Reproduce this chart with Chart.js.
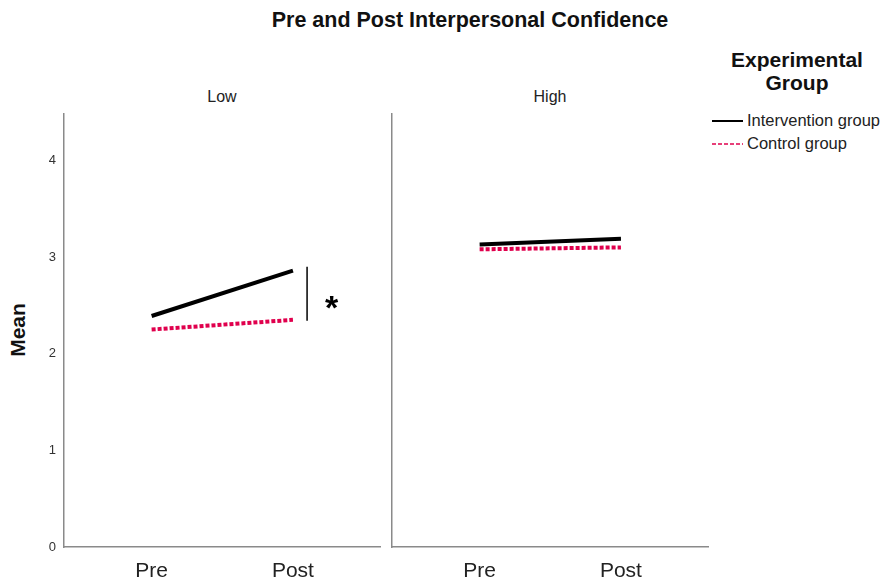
<!DOCTYPE html>
<html>
<head>
<meta charset="utf-8">
<script src="https://cdn.jsdelivr.net/npm/chart.js@4.4.1/dist/chart.umd.min.js"></script>
<style>
  html, body { margin: 0; padding: 0; background: #fff; }
  body { width: 884px; height: 581px; position: relative; overflow: hidden; font-family: "Liberation Sans", Arial, sans-serif; color: #111; }
  .abs { position: absolute; white-space: nowrap; }
  .c { transform: translate(-50%, -50%); }
  #title { left: 470px; top: 20px; font-weight: bold; font-size: 21.5px; }
  .ptitle { top: 97px; font-size: 16px; color: #222; }
  #mean { left: 18px; top: 330px; font-weight: bold; font-size: 21px; transform: translate(-50%, -50%) rotate(-90deg); }
  .legt { font-weight: bold; font-size: 21px; color: #111; }
  .legi { font-size: 16.5px; color: #222; display: flex; align-items: center; }
  .legi svg { margin-right: 4px; }
  #left { left: 0; top: 0; }
  #right { left: 384px; top: 0; }
</style>
</head>
<body>
<div id="title" class="abs c">Pre and Post Interpersonal Confidence</div>
<div id="mean" class="abs">Mean</div>
<div class="abs c ptitle" id="pt0" style="left:222px">Low</div>
<div class="abs c ptitle" id="pt1" style="left:550px">High</div>
<div class="abs c legt" style="left:797px; top:60px">Experimental</div>
<div class="abs c legt" style="left:797px; top:83px">Group</div>
<div class="abs legi" style="left:712px; top:111px">
  <svg width="31" height="4"><line x1="0" y1="2" x2="31" y2="2" stroke="#000" stroke-width="2"/></svg><span id="li0"></span>
</div>
<div class="abs legi" style="left:712px; top:134px">
  <svg width="31" height="4"><line x1="0" y1="2" x2="31" y2="2" stroke="#e0004d" stroke-width="1.5" stroke-dasharray="4,2"/></svg><span id="li1"></span>
</div>
<canvas id="left" class="abs" width="386" height="581"></canvas>
<canvas id="right" class="abs" width="330" height="581"></canvas>
<script>
// ---- data ----
const categories = ['Pre', 'Post'];
const panels = ['Low', 'High'];
const seriesNames = ['Intervention group', 'Control group'];
const interventionLow = [2.39, 2.86];
const controlLow = [2.25, 2.35];
const interventionHigh = [3.13, 3.19];
const controlHigh = [3.08, 3.10];
const yTicks = [0, 1, 2, 3, 4];
const sigLow = [2.90, 2.34];   // significance bracket span (Low, Post)

document.getElementById('li0').textContent = seriesNames[0];
document.getElementById('li1').textContent = seriesNames[1];
document.getElementById('pt0').textContent = panels[0];
document.getElementById('pt1').textContent = panels[1];

const AXIS = '#8a8a8a';
const RED = '#e0004d';
const X_MIN = -0.62, X_MAX = 1.616, Y_MAX = 4.48;

function pts(vals) { return vals.map((v, i) => ({ x: i, y: v })); }

const sigPlugin = {
  id: 'sig',
  afterDatasetsDraw(chart, args, opts) {
    if (!opts || !opts.span) return;
    const { ctx, scales } = chart;
    const x = scales.x.getPixelForValue(opts.x);
    const y1 = scales.y.getPixelForValue(opts.span[0]);
    const y2 = scales.y.getPixelForValue(opts.span[1]);
    ctx.save();
    ctx.strokeStyle = '#000';
    ctx.lineWidth = 1.5;
    ctx.beginPath();
    ctx.moveTo(x, y1); ctx.lineTo(x, y2);
    ctx.stroke();
    ctx.fillStyle = '#000';
    ctx.font = 'bold 34px "Liberation Sans", Arial, sans-serif';
    ctx.textAlign = 'center';
    ctx.textBaseline = 'alphabetic';
    const sx = scales.x.getPixelForValue(opts.labelX);
    const sy = (y1 + y2) / 2;
    ctx.fillText(opts.label, sx, sy + 0.57 * 34 + 6);
    ctx.restore();
  }
};

function makeChart(id, inter, ctrl, showY, sig) {
  return new Chart(document.getElementById(id), {
    type: 'line',
    data: {
      datasets: [
        { label: seriesNames[0], data: pts(inter), borderColor: '#000', borderWidth: 4, pointRadius: 0, fill: false, tension: 0, borderCapStyle: 'butt' },
        { label: seriesNames[1], data: pts(ctrl), borderColor: RED, borderWidth: 4, borderDash: [4, 2], pointRadius: 0, fill: false, tension: 0, borderCapStyle: 'butt' }
      ]
    },
    plugins: [sigPlugin],
    options: {
      responsive: false,
      animation: false,
      layout: { padding: { top: 114, right: 6, left: 0, bottom: 0 } },
      plugins: {
        legend: { display: false },
        tooltip: { enabled: false },
        sig: sig || {}
      },
      scales: {
        x: {
          type: 'linear',
          min: X_MIN, max: X_MAX,
          afterBuildTicks: (s) => { s.ticks = categories.map((c, i) => ({ value: i })); },
          afterFit: (s) => { s.height = 34; },
          grid: { display: false, drawTicks: false },
          border: { display: true, color: AXIS, width: 1.5 },
          ticks: {
            callback: (v) => categories[v],
            color: '#222',
            font: { family: '"Liberation Sans", Arial, sans-serif', size: 21 },
            padding: 12, maxRotation: 0, autoSkip: false
          }
        },
        y: {
          type: 'linear',
          min: 0, max: Y_MAX,
          afterBuildTicks: (s) => { s.ticks = yTicks.map(v => ({ value: v })); },
          afterFit: (s) => { s.width = showY ? 64 : 8; },
          grid: { display: false, drawTicks: false },
          border: { display: true, color: AXIS, width: 1.5 },
          ticks: {
            display: showY,
            color: '#333',
            font: { family: '"Liberation Sans", Arial, sans-serif', size: 13 },
            padding: 8
          }
        }
      }
    }
  });
}

makeChart('left', interventionLow, controlLow, true, { x: 1.10, span: sigLow, label: '*', labelX: 1.274 });
makeChart('right', interventionHigh, controlHigh, false, null);
</script>
</body>
</html>
